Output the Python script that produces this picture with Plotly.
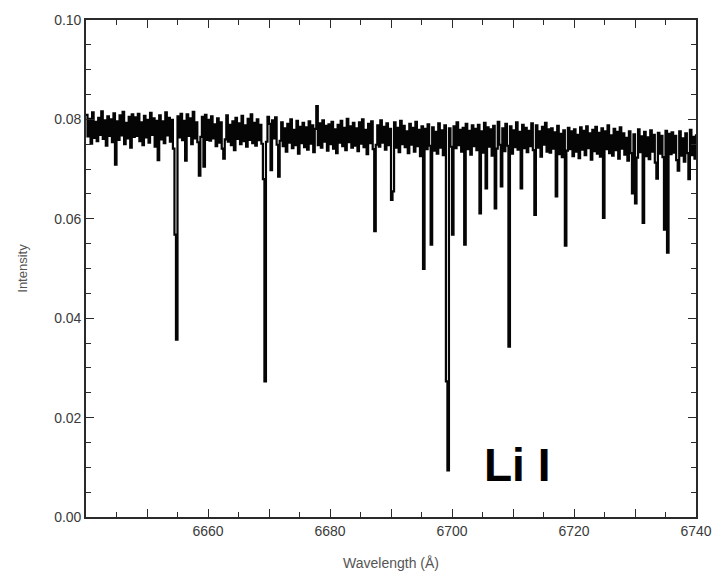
import numpy as np
import plotly.graph_objects as go

# Spectrum sampling grid (Angstrom)
wavelength_start = 6640.0
wavelength_step = 0.25

# Intensity, in units of 1e-4 (one row = 4 Angstrom)
intensity_e4 = [
    809, 766, 801, 751, 814, 763, 795, 756, 803, 769, 816, 761, 798, 747, 806, 767,
    800, 754, 812, 709, 796, 759, 808, 768, 815, 750, 793, 762, 805, 743, 810, 765,
    804, 767, 811, 756, 794, 748, 807, 764, 799, 753, 813, 769, 802, 745, 797, 718,
    808, 760, 796, 752, 814, 768, 803, 755, 799, 741, 568, 357, 806, 764, 811, 758,
    797, 717, 810, 767, 802, 750, 815, 762, 794, 754, 687, 765, 805, 705, 809, 759,
    799, 757, 806, 762, 790, 746, 802, 753, 794, 741, 721, 760, 808, 755, 789, 748,
    796, 738, 803, 761, 792, 750, 807, 756, 788, 745, 801, 759, 810, 752, 793, 747,
    800, 758, 789, 751, 680, 273, 755, 805, 791, 698, 798, 762, 804, 749, 685, 757,
    794, 746, 782, 735, 791, 753, 800, 742, 779, 748, 797, 731, 785, 752, 793, 744,
    784, 739, 796, 751, 788, 734, 781, 827, 748, 792, 743, 798, 755, 787, 737, 790,
    750, 795, 741, 780, 732, 789, 753, 797, 746, 783, 738, 801, 754, 786, 743, 793,
    747, 782, 736, 794, 751, 800, 744, 779, 730, 791, 752, 796, 740, 575, 749, 788,
    745, 798, 753, 785, 739, 792, 748, 781, 638, 655, 794, 743, 783, 734, 797, 750,
    787, 744, 776, 732, 791, 749, 783, 735, 795, 746, 779, 726, 786, 499, 781, 740,
    790, 747, 548, 784, 737, 775, 731, 792, 743, 778, 728, 788, 273, 94, 782, 745,
    568, 786, 742, 794, 748, 779, 735, 783, 548, 791, 740, 777, 729, 788, 746, 781,
    738, 789, 611, 776, 733, 793, 661, 784, 745, 780, 727, 787, 621, 741, 795, 749,
    665, 782, 736, 791, 747, 343, 786, 731, 778, 744, 794, 739, 775, 661, 789, 742,
    783, 734, 777, 746, 792, 738, 608, 788, 743, 776, 725, 785, 749, 793, 735, 780,
    733, 782, 741, 774, 645, 787, 730, 771, 724, 778, 546, 737, 783, 740, 776, 726,
    780, 735, 769, 722, 784, 739, 777, 728, 786, 742, 772, 719, 779, 736, 785, 731,
    773, 725, 782, 602, 776, 740, 788, 732, 768, 727, 781, 738, 775, 721, 784, 741,
    772, 729, 763, 717, 776, 732, 651, 770, 631, 723, 780, 734, 766, 592, 775, 726,
    764, 720, 778, 735, 769, 713, 681, 773, 731, 767, 724, 578, 777, 532, 771, 730,
    774, 733, 767, 718, 697, 776, 727, 762, 715, 772, 732, 680, 779, 728, 765, 721,
    770,
]

x_tick_vals = [6650, 6660, 6670, 6680, 6690, 6700, 6710, 6720, 6730, 6740]
x_tick_text = ["", "6660", "", "6680", "", "6700", "", "6720", "", "6740"]
y_tick_vals = [0.00, 0.02, 0.04, 0.06, 0.08, 0.10]
y_tick_text = ["0.00", "0.02", "0.04", "0.06", "0.08", "0.10"]

line_label = "Li I"
line_label_pos = (6710.7, 0.0105)

wavelength = wavelength_start + wavelength_step * np.arange(len(intensity_e4))
intensity = np.array(intensity_e4) / 1e4

FONT = "Liberation Sans, Arial, Helvetica, sans-serif"

fig = go.Figure()
fig.add_trace(go.Scatter(
    x=wavelength, y=intensity, mode="lines",
    line=dict(color="#050505", width=2.2, shape="hv"),
    showlegend=False, hoverinfo="skip",
))

fig.add_annotation(
    x=line_label_pos[0], y=line_label_pos[1], text=f"<b>{line_label}</b>",
    showarrow=False, font=dict(family=FONT, size=46, color="black"),
    xanchor="center", yanchor="middle",
)
fig.add_annotation(
    x=0.5, y=0, xref="paper", yref="paper", text="Wavelength (Å)",
    showarrow=False, font=dict(family=FONT, size=14, color="#555555"),
    xanchor="center", yanchor="middle", yshift=-46,
)

axis_common = dict(
    showline=True, linecolor="#2a2a2a", linewidth=1.6, mirror="ticks",
    ticks="inside", tickcolor="#2a2a2a", tickwidth=1.3,
    showgrid=False, zeroline=False,
    tickfont=dict(family=FONT, size=14, color="#3a3a3a"),
)

fig.update_xaxes(
    range=[6640, 6740], tickmode="array", tickvals=x_tick_vals, ticktext=x_tick_text,
    ticklen=8,
    minor=dict(ticks="inside", dtick=5, tick0=6640, ticklen=5, tickcolor="#2a2a2a", tickwidth=1.2),
    **axis_common,
)
fig.update_yaxes(
    range=[0, 0.10], tickmode="array", tickvals=y_tick_vals, ticktext=y_tick_text,
    ticklen=8,
    minor=dict(ticks="inside", dtick=0.005, tick0=0, ticklen=5, tickcolor="#2a2a2a", tickwidth=1.2),
    title=dict(text="Intensity", font=dict(family=FONT, size=13, color="#555555"), standoff=24),
    **axis_common,
)

fig.update_layout(
    width=724, height=574,
    margin=dict(l=86, r=21, t=12, b=57),
    plot_bgcolor="white", paper_bgcolor="white",
)

fig.write_html("out.html")
